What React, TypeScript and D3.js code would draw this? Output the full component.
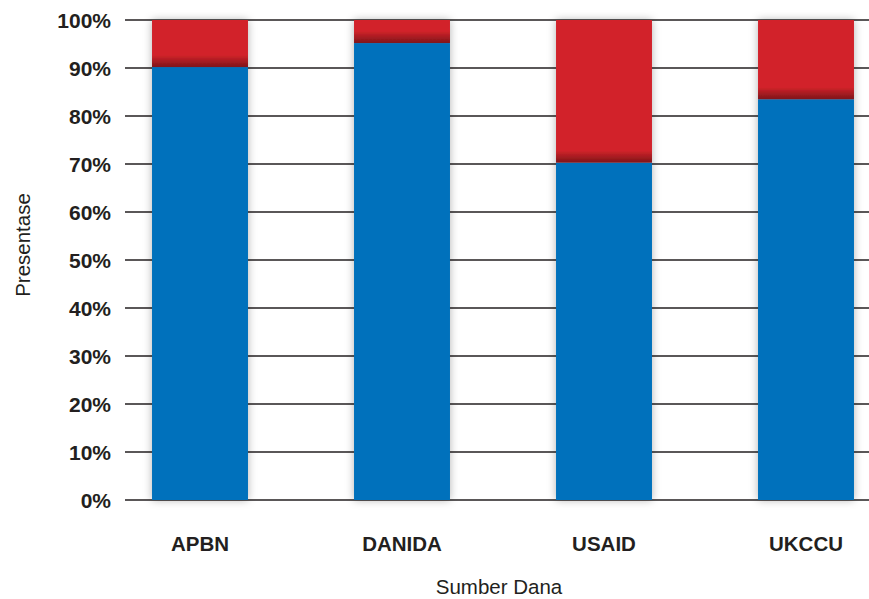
import { useEffect, useRef } from "react";
import * as d3 from "d3";

const categories = ["APBN", "DANIDA", "USAID", "UKCCU"];
const bluePct = [90.2, 95.2, 70.3, 83.5];
const yTicks = [0, 10, 20, 30, 40, 50, 60, 70, 80, 90, 100];

const BLUE = "#0071bc";
const RED = "#d2232a";
const INK = "#231f20";
const FONT = "Liberation Sans, Arial, Helvetica, sans-serif";

export default function App() {
  const ref = useRef<SVGSVGElement>(null);

  const width = 869;
  const height = 599;

  useEffect(() => {
    if (!ref.current) return;
    const svg = d3.select(ref.current);
    svg.selectAll("*").remove();

    const x = d3
      .scaleBand()
      .domain(categories)
      .range([99, 907])
      .paddingInner(0.525)
      .paddingOuter(0.2625);

    const y = d3.scaleLinear().domain([0, 100]).range([500, 20]);

    const defs = svg.append("defs");
    const shadow = defs
      .append("filter")
      .attr("id", "barShadow")
      .attr("x", "-20%")
      .attr("y", "-10%")
      .attr("width", "140%")
      .attr("height", "120%");
    shadow
      .append("feDropShadow")
      .attr("dx", 0)
      .attr("dy", 0)
      .attr("stdDeviation", 4)
      .attr("flood-color", "#000")
      .attr("flood-opacity", 0.3);

    const grad = defs
      .append("linearGradient")
      .attr("id", "edgeShade")
      .attr("x1", 0)
      .attr("y1", 0)
      .attr("x2", 0)
      .attr("y2", 1);
    grad.append("stop").attr("offset", "0%").attr("stop-color", "#000").attr("stop-opacity", 0);
    grad.append("stop").attr("offset", "100%").attr("stop-color", "#000").attr("stop-opacity", 0.4);

    // gridlines
    svg
      .append("g")
      .selectAll("line")
      .data(yTicks)
      .join("line")
      .attr("x1", 125)
      .attr("x2", width)
      .attr("y1", (d) => y(d))
      .attr("y2", (d) => y(d))
      .attr("stroke", INK)
      .attr("stroke-width", 1.5);

    // y tick labels
    svg
      .append("g")
      .selectAll("text")
      .data(yTicks)
      .join("text")
      .attr("x", 111)
      .attr("y", (d) => y(d))
      .attr("dy", "0.36em")
      .attr("text-anchor", "end")
      .attr("font-family", FONT)
      .attr("font-weight", "bold")
      .attr("font-size", 21)
      .attr("fill", INK)
      .text((d) => `${d}%`);

    // bars
    const bars = svg
      .append("g")
      .selectAll("g")
      .data(categories)
      .join("g")
      .attr("filter", "url(#barShadow)");

    bars
      .append("rect")
      .attr("x", (d) => x(d)!)
      .attr("width", x.bandwidth())
      .attr("y", (_, i) => y(bluePct[i]))
      .attr("height", (_, i) => y(0) - y(bluePct[i]))
      .attr("fill", BLUE);

    bars
      .append("rect")
      .attr("x", (d) => x(d)!)
      .attr("width", x.bandwidth())
      .attr("y", y(100))
      .attr("height", (_, i) => y(bluePct[i]) - y(100))
      .attr("fill", RED);

    bars
      .append("rect")
      .attr("x", (d) => x(d)!)
      .attr("width", x.bandwidth())
      .attr("y", (_, i) => Math.max(y(100), y(bluePct[i]) - 12))
      .attr("height", (_, i) => Math.min(12, y(bluePct[i]) - y(100)))
      .attr("fill", "url(#edgeShade)");

    // category labels
    svg
      .append("g")
      .selectAll("text")
      .data(categories)
      .join("text")
      .attr("x", (d) => x(d)! + x.bandwidth() / 2)
      .attr("y", 551)
      .attr("text-anchor", "middle")
      .attr("font-family", FONT)
      .attr("font-weight", "bold")
      .attr("font-size", 20.5)
      .attr("fill", INK)
      .text((d) => d);

    // axis titles
    svg
      .append("text")
      .attr("x", 499)
      .attr("y", 594)
      .attr("text-anchor", "middle")
      .attr("font-family", FONT)
      .attr("font-size", 20.5)
      .attr("fill", INK)
      .text("Sumber Dana");

    svg
      .append("text")
      .attr("transform", `translate(30,245) rotate(-90)`)
      .attr("text-anchor", "middle")
      .attr("font-family", FONT)
      .attr("font-size", 20.5)
      .attr("fill", INK)
      .text("Presentase");
  }, []);

  return (
    <svg
      ref={ref}
      width={width}
      height={height}
      viewBox={`0 0 ${width} ${height}`}
      style={{ position: "absolute", left: 0, top: 0, background: "#fff" }}
    />
  );
}
